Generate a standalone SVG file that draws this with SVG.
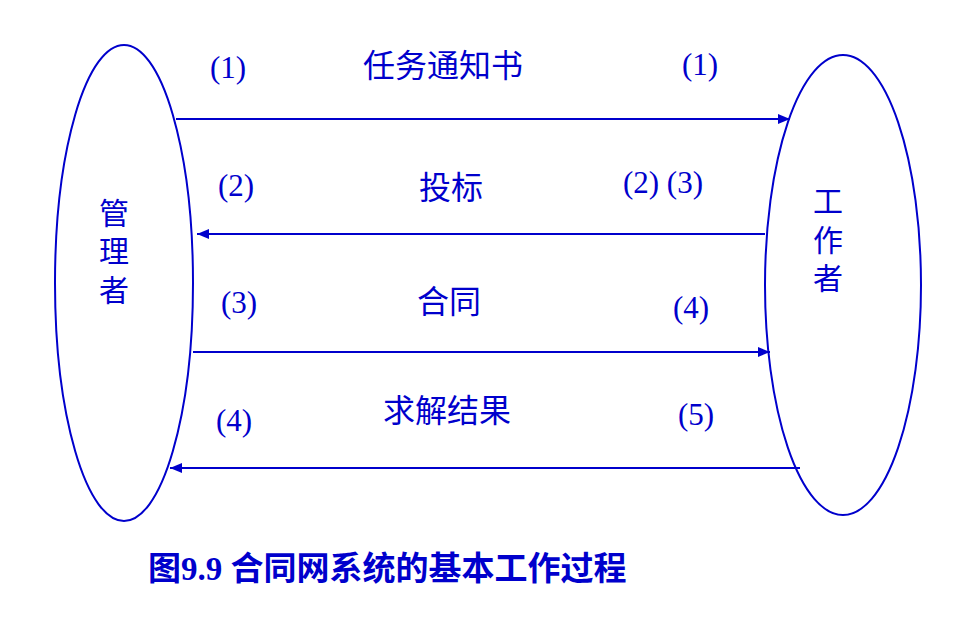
<svg xmlns="http://www.w3.org/2000/svg" width="975" height="634" viewBox="0 0 975 634">
<defs>
<marker id="ah" markerWidth="12" markerHeight="10" refX="12" refY="5" orient="auto" markerUnits="userSpaceOnUse">
<path d="M0,0 L12,5 L0,10 Z" fill="#0000CC"/>
</marker>
<style>
.ell{fill:none;stroke:#0000CC;stroke-width:2}
.ln{stroke:#0000CC;stroke-width:2;fill:none;marker-end:url(#ah)}
.num{font-family:"Liberation Serif",serif;font-size:31px;fill:#0000CC;text-anchor:middle}
.cjk{font-family:"Liberation Serif","Noto Sans CJK SC",sans-serif;font-size:32px;fill:#0000CC;text-anchor:middle}
.side{font-family:"Liberation Serif","Noto Sans CJK SC",sans-serif;font-size:30px;fill:#0000CC;text-anchor:middle}
.cap{font-family:"Liberation Serif","Noto Sans CJK SC",serif;font-size:33px;font-weight:bold;fill:#0000CC}
</style>
</defs>
<rect width="975" height="634" fill="#fff"/>
<g id="manager">
<ellipse class="ell" cx="124" cy="283" rx="69" ry="238"/>
<text class="side" x="114" y="224">管</text>
<text class="side" x="114" y="262">理</text>
<text class="side" x="114" y="301">者</text>
</g>
<g id="worker">
<ellipse class="ell" cx="843" cy="285" rx="78" ry="230"/>
<text class="side" x="828" y="212">工</text>
<text class="side" x="828" y="251">作</text>
<text class="side" x="828" y="289">者</text>
</g>
<g id="connectors">
<line class="ln" x1="176" y1="119" x2="790" y2="119"/>
<line class="ln" x1="765" y1="234" x2="197" y2="234"/>
<line class="ln" x1="193" y1="352" x2="770" y2="352"/>
<line class="ln" x1="800" y1="468" x2="170" y2="468"/>
</g>
<g id="labels">
<text class="num" x="228" y="78">(1)</text>
<text class="cjk" x="443" y="77">任务通知书</text>
<text class="num" x="700" y="75">(1)</text>
<text class="num" x="236" y="196">(2)</text>
<text class="cjk" x="451" y="199">投标</text>
<text class="num" x="663" y="193">(2) (3)</text>
<text class="num" x="239" y="313">(3)</text>
<text class="cjk" x="449" y="313">合同</text>
<text class="num" x="691" y="318">(4)</text>
<text class="num" x="234" y="431">(4)</text>
<text class="cjk" x="447" y="422">求解结果</text>
<text class="num" x="696" y="425">(5)</text>
</g>
<text class="cap" x="148" y="580">图9.9 合同网系统的基本工作过程</text>
</svg>
